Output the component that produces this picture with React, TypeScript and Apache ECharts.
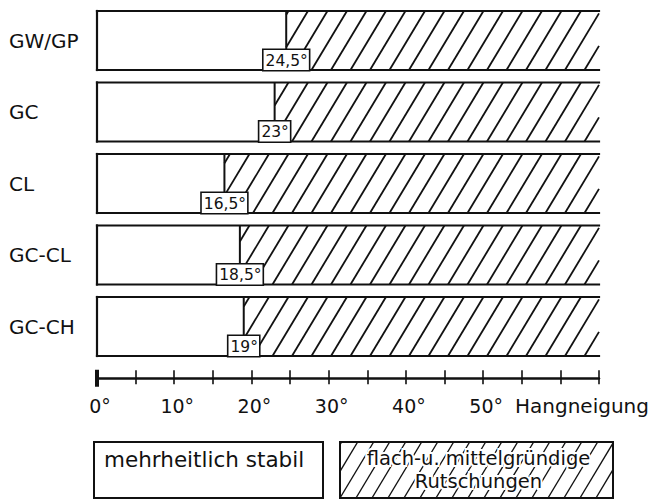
import React, { useEffect, useRef } from "react";
import * as echarts from "echarts";

// ---- data ----
const categories = ["GW/GP", "GC", "CL", "GC-CL", "GC-CH"];
const stableLimit = [24.5, 23, 16.5, 18.5, 19];
const limitLabels = ["24,5°", "23°", "16,5°", "18,5°", "19°"];
const axisMin = 0;
const axisMax = 65;
const tickStep = 5;
const labelledTicks = [0, 10, 20, 30, 40, 50];
const axisTitle = "Hangneigung";
const legendStable = "mehrheitlich stabil";
const legendSlide = "flach-u. mittelgründige\nRutschungen";

// ---- styling ----
const INK = "#111";
const FONT = '"DejaVu Sans", sans-serif';
const BAR_RATIO = 0.825;
const HATCH_STEP = 19.5;
const HATCH_ANGLE = (59 * Math.PI) / 180;

function hatchSegments(
  xa: number,
  xb: number,
  top: number,
  bot: number,
  step: number,
  origin: number
) {
  const h = bot - top;
  const dx = h / Math.tan(HATCH_ANGLE);
  const segs: number[][] = [];
  const start = origin + Math.floor((xa - dx - origin) / step) * step;
  for (let b = start; b < xb; b += step) {
    const t0 = Math.max(0, (xa - b) / dx);
    const t1 = Math.min(1, (xb - b) / dx);
    if (t1 <= t0) continue;
    segs.push([b + t0 * dx, bot - t0 * h, b + t1 * dx, bot - t1 * h]);
  }
  return segs;
}

function renderItem(params: any, api: any) {
  const limit = api.value(0) as number;
  const cat = api.value(1) as number;
  const idx = params.dataIndex;
  const p0 = api.coord([axisMin, cat]);
  const pl = api.coord([limit, cat]);
  const pr = api.coord([axisMax, cat]);
  const x0 = p0[0];
  const yc = p0[1];
  const xl = pl[0];
  const xr = pr[0];
  const band = (api.size([0, 1]) as number[])[1];
  const h = band * BAR_RATIO;
  const top = yc - h / 2;
  const bot = yc + h / 2;
  const children: any[] = [];
  children.push({
    type: "rect",
    shape: { x: x0, y: top, width: xr - x0, height: h },
    style: { fill: "#fff" },
  });
  hatchSegments(xl, xr, top, bot, HATCH_STEP, x0).forEach((s) => {
    children.push({
      type: "line",
      shape: { x1: s[0], y1: s[1], x2: s[2], y2: s[3] },
      style: { stroke: INK, lineWidth: 1.8 },
    });
  });
  const border = { stroke: INK, lineWidth: 2.2, lineCap: "square" };
  children.push({ type: "line", shape: { x1: x0, y1: top, x2: xr, y2: top }, style: border });
  children.push({ type: "line", shape: { x1: x0, y1: bot, x2: xr, y2: bot }, style: border });
  children.push({ type: "line", shape: { x1: x0, y1: top, x2: x0, y2: bot }, style: border });
  children.push({
    type: "line",
    shape: { x1: xl, y1: top, x2: xl, y2: bot - 10 },
    style: { stroke: INK, lineWidth: 2 },
  });
  children.push({
    type: "text",
    x: xl,
    y: bot,
    style: {
      text: limitLabels[idx],
      align: "center",
      verticalAlign: "bottom",
      font: `15.5px ${FONT}`,
      fill: INK,
      backgroundColor: "#fff",
      borderColor: INK,
      borderWidth: 1.6,
      padding: [3, 1, 1, 2],
    },
  });
  return { type: "group", children };
}

// legend geometry
const LEG_TOP = 442;
const LEG_H = 56;
const LEG1 = { x: 94, w: 229 };
const LEG2 = { x: 340, w: 273 };

function legendGraphics() {
  const els: any[] = [];
  els.push({
    type: "rect",
    shape: { x: LEG1.x, y: LEG_TOP, width: LEG1.w, height: LEG_H },
    style: { fill: "#fff", stroke: INK, lineWidth: 2 },
  });
  els.push({
    type: "text",
    x: LEG1.x + 10,
    y: LEG_TOP + 17,
    style: {
      text: legendStable,
      font: `21.5px ${FONT}`,
      fill: INK,
      align: "left",
      verticalAlign: "middle",
    },
  });
  els.push({
    type: "rect",
    shape: { x: LEG2.x, y: LEG_TOP, width: LEG2.w, height: LEG_H },
    style: { fill: "#fff", stroke: INK, lineWidth: 2 },
  });
  hatchSegments(LEG2.x, LEG2.x + LEG2.w, LEG_TOP, LEG_TOP + LEG_H, 16, LEG2.x).forEach((s) => {
    els.push({
      type: "line",
      shape: { x1: s[0], y1: s[1], x2: s[2], y2: s[3] },
      style: { stroke: INK, lineWidth: 1.4 },
    });
  });
  els.push({
    type: "rect",
    shape: { x: LEG2.x, y: LEG_TOP, width: LEG2.w, height: LEG_H },
    style: { fill: "none", stroke: INK, lineWidth: 2 },
  });
  els.push({
    type: "text",
    x: LEG2.x + LEG2.w / 2 + 2,
    y: LEG_TOP + 27.5,
    style: {
      text: legendSlide,
      font: `19.5px ${FONT}`,
      lineHeight: 23,
      fill: INK,
      stroke: "#fff",
      lineWidth: 4,
      align: "center",
      verticalAlign: "middle",
    },
  });
  els.push({
    type: "text",
    x: 515,
    y: 396,
    style: {
      text: axisTitle,
      font: `20px ${FONT}`,
      fill: INK,
      align: "left",
      verticalAlign: "top",
    },
  });
  return els;
}

export default function App() {
  const ref = useRef<HTMLDivElement>(null);
  useEffect(() => {
    if (!ref.current) return;
    const chart = echarts.init(ref.current, null, { renderer: "svg" });
    const tickLine = { color: INK, width: 1.6 };
    const option: any = {
      animation: false,
      backgroundColor: "#fff",
      grid: {
        left: 97,
        right: 52,
        top: 4.75,
        bottom: 137.75,
        containLabel: false,
        outerBoundsMode: "none",
      },
      xAxis: [
        {
          type: "value",
          min: axisMin,
          max: axisMax,
          interval: tickStep,
          position: "bottom",
          offset: 16,
          axisLine: {
            show: true,
            lineStyle: { color: INK, width: 2.5 },
            symbol: ["rect", "none"],
            symbolSize: [17, 4],
          },
          axisTick: { show: true, length: 6, lineStyle: tickLine },
          splitLine: { show: false },
          axisLabel: {
            formatter: (v: number) => (labelledTicks.indexOf(v) >= 0 ? `${v}°` : ""),
            fontSize: 19,
            fontFamily: FONT,
            color: INK,
            margin: 18,
            padding: [0, 0, 0, 6],
          },
        },
        {
          type: "value",
          min: axisMin,
          max: axisMax,
          interval: tickStep,
          position: "bottom",
          offset: 16,
          axisLine: { show: false },
          axisTick: { show: true, inside: true, length: 8, lineStyle: tickLine },
          splitLine: { show: false },
          axisLabel: { show: false },
        },
      ],
      yAxis: {
        type: "category",
        data: categories,
        inverse: true,
        axisLine: { show: false },
        axisTick: { show: false },
        splitLine: { show: false },
        axisLabel: {
          align: "left",
          margin: 88,
          fontSize: 20,
          fontFamily: FONT,
          color: INK,
        },
      },
      series: [
        {
          type: "custom",
          name: "Hangneigung",
          renderItem,
          clip: false,
          encode: { x: 0, y: 1 },
          data: categories.map((c, i) => [stableLimit[i], i]),
        },
      ],
      graphic: legendGraphics(),
    };
    chart.setOption(option);
    return () => chart.dispose();
  }, []);
  return (
    <div
      ref={ref}
      style={{ position: "fixed", left: 0, top: 0, width: 651, height: 500, background: "#fff" }}
    />
  );
}
